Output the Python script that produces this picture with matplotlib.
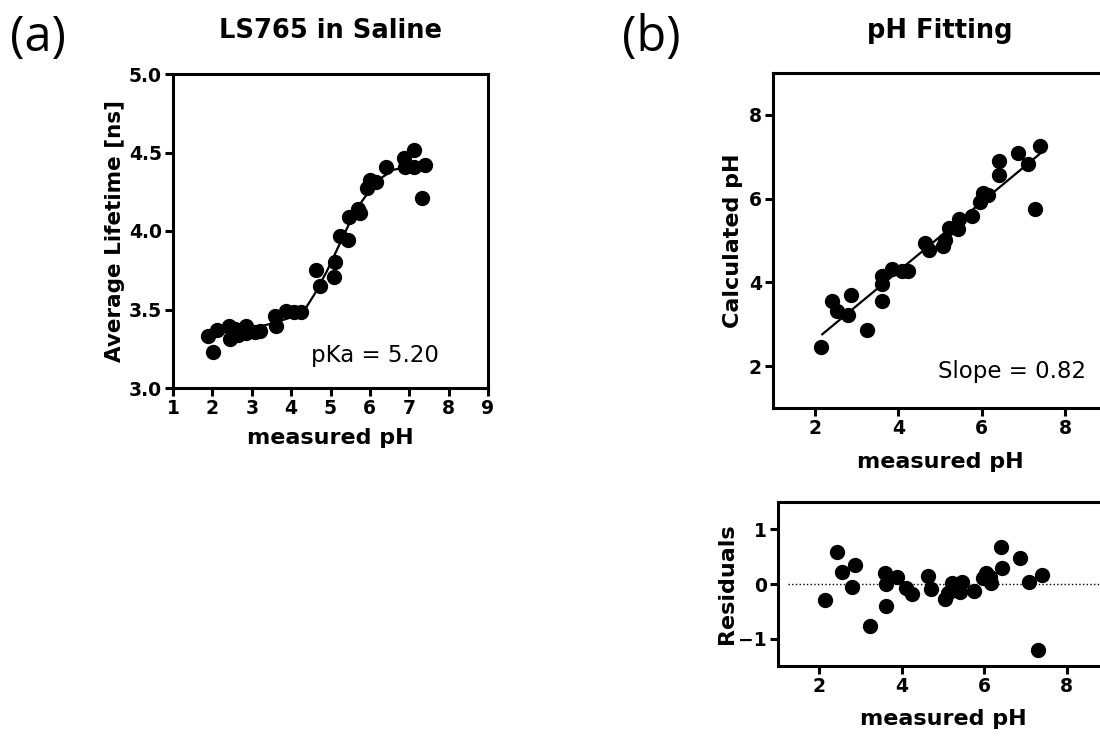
import matplotlib
matplotlib.use("Agg")
import matplotlib.pyplot as plt

# -------------------------------
# DATA
# -------------------------------
# panel (a): lifetime vs measured pH
lt_ph = [1.88, 2.02, 2.13, 2.41, 2.46, 2.58, 2.64, 2.85, 2.86, 3.07, 3.20,
         3.58, 3.62, 3.88, 4.07, 4.24, 4.64, 4.73, 5.08, 5.12, 5.23, 5.44,
         5.46, 5.69, 5.76, 5.93, 6.01, 6.16, 6.41, 6.86, 6.88, 7.11, 7.11,
         7.33, 7.41]
lt_ns = [3.333, 3.227, 3.371, 3.392, 3.312, 3.375, 3.339, 3.392, 3.350,
         3.354, 3.361, 3.456, 3.392, 3.488, 3.484, 3.484, 3.753, 3.651,
         3.706, 3.800, 3.965, 3.944, 4.086, 4.139, 4.113, 4.273, 4.326,
         4.315, 4.410, 4.463, 4.410, 4.516, 4.410, 4.209, 4.421]

# sigmoid fit curve as drawn
lt_fit_ph = [1.88, 2.5, 3.0, 3.5, 4.0, 4.3, 4.6, 4.9, 5.2, 5.5, 5.8, 6.0,
             6.3, 6.6, 7.0, 7.4]
lt_fit_ns = [3.34, 3.36, 3.38, 3.41, 3.45, 3.48, 3.60, 3.74, 3.90, 4.06,
             4.19, 4.26, 4.34, 4.39, 4.41, 4.42]

# panel (b): calculated vs measured pH
meas_ph = [2.16, 2.42, 2.54, 2.79, 2.87, 3.24, 3.60, 3.61, 3.61, 3.86, 4.08,
           4.24, 4.64, 4.74, 5.06, 5.13, 5.21, 5.42, 5.46, 5.76, 5.95, 6.03,
           6.16, 6.42, 6.42, 6.88, 7.11, 7.28, 7.39]
calc_ph = [2.46, 3.55, 3.31, 3.23, 3.71, 2.87, 4.15, 3.96, 3.55, 4.31, 4.27,
           4.27, 4.95, 4.78, 4.86, 5.02, 5.31, 5.27, 5.51, 5.59, 5.92, 6.13,
           6.08, 6.90, 6.56, 7.10, 6.83, 5.75, 7.26]
line_x = [2.18, 7.38]
line_y = [2.76, 7.06]

# residuals
res_ph = [2.15, 2.42, 2.56, 2.79, 2.87, 3.24, 3.59, 3.63, 3.63, 3.88, 4.10,
          4.25, 4.64, 4.71, 5.05, 5.13, 5.23, 5.41, 5.47, 5.74, 5.96, 6.04,
          6.14, 6.16, 6.41, 6.42, 6.87, 7.09, 7.30, 7.40]
res_val = [-0.29, 0.58, 0.22, -0.05, 0.35, -0.77, 0.21, 0.00, -0.41, 0.12,
           -0.07, -0.19, 0.15, -0.10, -0.27, -0.16, 0.02, -0.15, 0.03, -0.13,
           0.11, 0.21, 0.13, 0.02, 0.67, 0.30, 0.47, 0.03, -1.21, 0.17]

# -------------------------------
# STYLE
# -------------------------------
plt.rcParams["font.family"] = ["DejaVu Sans"]
plt.rcParams["font.weight"] = "bold"
plt.rcParams["axes.labelweight"] = "bold"

W, H = 1100, 736
fig = plt.figure(figsize=(W / 100, H / 100), dpi=100)


def px_axes(left, top, right, bottom):
    return fig.add_axes([left / W, 1 - bottom / H, (right - left) / W, (bottom - top) / H])


def style(ax):
    for s in ax.spines.values():
        s.set_linewidth(2.2)
    ax.tick_params(direction="out", length=6, width=2.2, labelsize=13.5, pad=2)
    for lab in ax.get_xticklabels() + ax.get_yticklabels():
        lab.set_fontweight("bold")


mk = dict(marker="o", ls="none", color="black", ms=10)
note = dict(ha="right", va="center", fontsize=16.5, fontweight="normal")

# -------------------------------
# PANEL (a)
# -------------------------------
ax1 = px_axes(173, 74, 488, 388)
ax1.plot(lt_fit_ph, lt_fit_ns, color="black", lw=1.6)
ax1.plot(lt_ph, lt_ns, **mk)
ax1.set_xlim(1, 9)
ax1.set_ylim(3.0, 5.0)
ax1.set_xticks(range(1, 10))
ax1.set_yticks([3.0, 3.5, 4.0, 4.5, 5.0])
ax1.set_yticklabels(["3.0", "3.5", "4.0", "4.5", "5.0"])
style(ax1)
ax1.set_xlabel("measured pH", fontsize=16, labelpad=7)
ax1.set_ylabel("Average Lifetime [ns]", fontsize=15.5, labelpad=3)
ax1.set_title("LS765 in Saline", fontsize=18.5, fontweight="bold", pad=26)
ax1.text(7.75, 3.21, "pKa = 5.20", **note)

# -------------------------------
# PANEL (b) top
# -------------------------------
ax2 = px_axes(773, 73, 1107, 408)
ax2.plot(line_x, line_y, color="black", lw=1.6)
ax2.plot(meas_ph, calc_ph, **mk)
ax2.set_xlim(1, 9)
ax2.set_ylim(1, 9)
ax2.set_xticks([2, 4, 6, 8])
ax2.set_yticks([2, 4, 6, 8])
style(ax2)
ax2.set_xlabel("measured pH", fontsize=16, labelpad=10)
ax2.set_ylabel("Calculated pH", fontsize=16, labelpad=4)
ax2.set_title("pH Fitting", fontsize=18.5, fontweight="bold", pad=25)
ax2.text(8.5, 1.86, "Slope = 0.82", **note)

# -------------------------------
# RESIDUALS
# -------------------------------
ax3 = px_axes(778, 502, 1108, 666)
ax3.axhline(0, color="black", lw=1, ls=":", xmin=0.03)
ax3.plot(res_ph, res_val, **mk)
ax3.set_xlim(1, 9)
ax3.set_ylim(-1.5, 1.5)
ax3.set_xticks([2, 4, 6, 8])
ax3.set_yticks([-1, 0, 1])
style(ax3)
ax3.set_xlabel("measured pH", fontsize=16, labelpad=9)
ax3.set_ylabel("Residuals", fontsize=16, labelpad=1)

# panel letters
fig.text(10 / W, 1 - 38 / H, "(a)", fontsize=35, fontweight="normal",
         family="Open Sans", va="center", ha="left")
fig.text(622 / W, 1 - 38 / H, "(b)", fontsize=35, fontweight="normal",
         family="Open Sans", va="center", ha="left")

fig.savefig("out.png", dpi=100)
